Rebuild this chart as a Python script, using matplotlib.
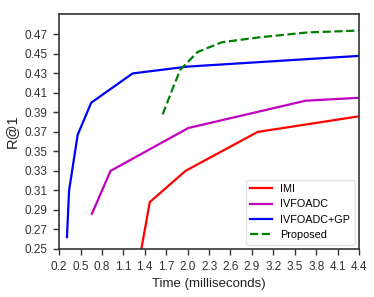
import matplotlib
matplotlib.use("Agg")
import matplotlib.pyplot as plt
import numpy as np

plt.rcParams["font.family"] = ["Liberation Sans", "DejaVu Sans"]

imi_t = [1.34, 1.47, 1.97, 2.98, 4.4]
imi_r = [0.245, 0.298, 0.330, 0.370, 0.386]

ivf_t = [0.66, 0.92, 2.01, 3.65, 4.4]
ivf_r = [0.286, 0.330, 0.374, 0.402, 0.405]

gp_t = [0.31, 0.34, 0.46, 0.65, 1.23, 2.0, 4.4]
gp_r = [0.262, 0.310, 0.367, 0.400, 0.430, 0.437, 0.448]

prop_t = [1.65, 1.82, 1.9, 2.14, 2.48, 3.0, 3.67, 4.4]
prop_r = [0.388, 0.420, 0.434, 0.452, 0.462, 0.467, 0.472, 0.474]

xticks = np.round(np.arange(0.2, 4.41, 0.3), 1)
yticks = np.round(np.arange(0.25, 0.48, 0.02), 2)

fig = plt.figure(figsize=(3.74, 2.97), dpi=100)
ax = fig.add_axes([0.158, 0.162, 0.802, 0.791])

ax.plot(imi_t, imi_r, color="red", lw=1.6, label="IMI")
ax.plot(ivf_t, ivf_r, color="#c000c0", lw=1.6, label="IVFOADC")
ax.plot(gp_t, gp_r, color="blue", lw=1.6, label="IVFOADC+GP")
ax.plot(prop_t, prop_r, color="green", lw=1.6, ls="--", label="Proposed")

ax.set_xlim(0.2, 4.4)
ax.set_ylim(0.25, 0.491)
ax.set_xticks(xticks)
ax.set_xticklabels([f"{v:.1f}" for v in xticks])
ax.set_yticks(yticks)
ax.set_yticklabels([f"{v:.2f}" for v in yticks])
ax.tick_params(labelsize=8.5, colors="#333333", length=4.5, width=1, pad=4)
for s in ax.spines.values():
    s.set_color("#333333")
    s.set_linewidth(1.2)
ax.set_xlabel("Time (milliseconds)", fontsize=9.5, color="#222222")
ax.set_ylabel("R@1", fontsize=10.5, color="#222222")

leg = ax.legend(loc="lower right", fontsize=7.8, frameon=True, fancybox=True,
                handlelength=2.0, borderaxespad=0.4)
leg.get_frame().set_edgecolor("#dddddd")

fig.savefig("out.png", dpi=100)
